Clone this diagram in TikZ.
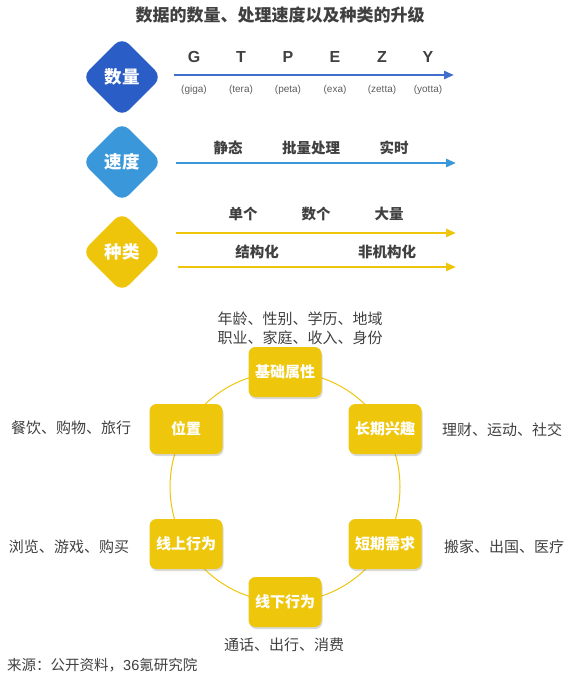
\documentclass[tikz,border=0pt]{standalone}
\usepackage{fontspec}
\setmainfont{Noto Sans CJK SC}
\newfontfamily\lat{Liberation Sans}
\usetikzlibrary{shapes.geometric,arrows.meta,shadows}
\definecolor{txt}{HTML}{404040}
\definecolor{dblue}{HTML}{2A5EC6}
\definecolor{lblue}{HTML}{3A98DA}
\definecolor{yel}{HTML}{EFC50C}
\definecolor{ybox}{HTML}{EEC60B}
\tikzset{
 ttl/.style={font=\fontsize{17}{20}\selectfont\bfseries, text=txt},
 dia/.style={diamond, minimum width=80pt, minimum height=80pt, inner sep=0pt, rounded corners=10pt, text=white, font=\fontsize{17.5}{20}\selectfont\bfseries},
 arr/.style={line width=2.6pt, -{Triangle[length=10pt,width=8pt]}},
 lbl/.style={font=\fontsize{14.5}{17}\selectfont\bfseries, text=txt},
 letter/.style={font=\lat\bfseries\fontsize{16}{18}\selectfont, text=txt},
 unit/.style={font=\lat\fontsize{10}{12}\selectfont, text=txt!85},
 box/.style={rounded corners=7pt, fill=ybox, minimum width=73pt, minimum height=50pt, inner sep=0pt, text=white, font=\fontsize{15}{17}\selectfont\bfseries, drop shadow={opacity=0.3, shadow xshift=1pt, shadow yshift=-2pt}},
 note/.style={font=\fontsize{15}{18}\selectfont, text=txt, inner sep=0pt},
}
\begin{document}
\begin{tikzpicture}[x=1pt,y=-1pt]
\useasboundingbox (0,0) rectangle (577,679);
\node[ttl] (title) at (280,15) {数据的数量、处理速度以及种类的升级};
% diamonds
\node[dia, fill=dblue] (d1) at (122,77) {数量};
\node[dia, fill=lblue] (d2) at (122,162) {速度};
\node[dia, fill=yel] (d3) at (122,252) {种类};
% arrows
\coordinate (a1s) at (174,75); \coordinate (a1e) at (454,75);
\coordinate (a2s) at (176,163); \coordinate (a2e) at (456,163);
\coordinate (a3s) at (176,233); \coordinate (a3e) at (456,233);
\coordinate (a4s) at (178,267); \coordinate (a4e) at (456,267);
\draw[arr, draw=dblue!90] (a1s) -- (a1e);
\draw[arr, draw=lblue] (a2s) -- (a2e);
\draw[arr, draw=yel] (a3s) -- (a3e);
\draw[arr, draw=yel] (a4s) -- (a4e);
% letters
\foreach \x/\l/\u/\n in {194/G/giga/g,241/T/tera/t,288/P/peta/p,335/E/exa/e,382/Z/zetta/z,428/Y/yotta/y}{
  \node[letter] (L\n) at (\x,57) {\l};
  \node[unit] (U\n) at (\x,90) {(\u)};
}
\node[lbl] (s1) at (228,148) {静态};
\node[lbl] (s2) at (311,148) {批量处理};
\node[lbl] (s3) at (394,148) {实时};
\node[lbl] (k1) at (243,214) {单个};
\node[lbl] (k2) at (316,214) {数个};
\node[lbl] (k3) at (389,214) {大量};
\node[lbl] (k4) at (257,252) {结构化};
\node[lbl] (k5) at (387,252) {非机构化};
% circle
\coordinate (cc) at (285,487);
\draw[yel, line width=1pt] (cc) circle (115pt);
\node[box] (b1) at (285,372) {基础属性};
\node[box] (b2) at (186,429) {位置};
\node[box] (b3) at (385,429) {长期兴趣};
\node[box] (b4) at (186,544) {线上行为};
\node[box] (b5) at (385,544) {短期需求};
\node[box] (b6) at (285,602) {线下行为};
% notes
\node[note, align=center] (n1) at (300,328) {年龄、性别、学历、地域\\[1pt]职业、家庭、收入、身份};
\node[note] (n2) at (71,428) {餐饮、购物、旅行};
\node[note] (n3) at (502,430) {理财、运动、社交};
\node[note] (n4) at (69,547) {浏览、游戏、购买};
\node[note] (n5) at (504,547) {搬家、出国、医疗};
\node[note] (n6) at (284,645) {通话、出行、消费};
\node[note, anchor=west, font=\fontsize{14.5}{18}\selectfont] (src) at (7,665) {来源：公开资料，{\lat 36}氪研究院};
\end{tikzpicture}
\end{document}
